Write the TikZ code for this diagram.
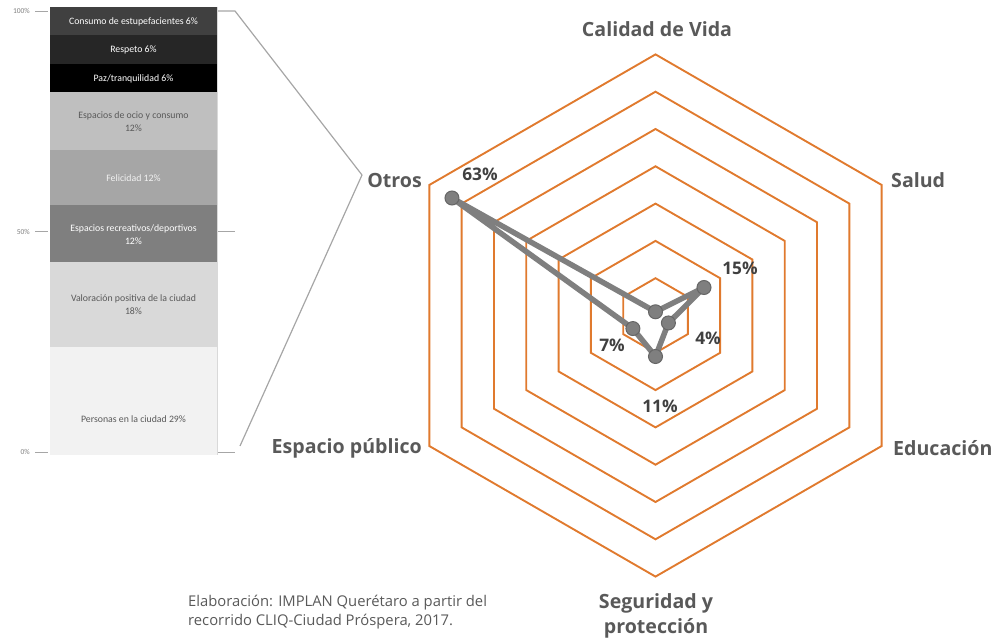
\documentclass[tikz,border=0pt]{standalone}
\usepackage{fontspec}
\setmainfont{Carlito}
\newfontfamily\labfont{Open Sans}
\usetikzlibrary{calc}
\definecolor{ringorange}{HTML}{E07A2E}
\definecolor{labgray}{HTML}{595959}
\definecolor{valgray}{HTML}{404040}
\definecolor{sergray}{HTML}{7F7F7F}
\definecolor{bracketgray}{HTML}{A6A6A6}
\begin{document}
\begin{tikzpicture}[x=1pt,y=-1pt,
  ring/.style={draw=ringorange,line width=1.9pt,line join=miter},
  series/.style={draw=sergray,line width=5.5pt,line join=round},
  marker/.style={circle,fill=sergray,draw=gray!80!black,line width=1pt,minimum size=14pt,inner sep=0pt},
  axlab/.style={font=\labfont\bfseries\fontsize{19.6}{23}\selectfont,text=labgray,inner sep=0pt},
  vallab/.style={font=\labfont\bfseries\fontsize{17.3}{20}\selectfont,text=valgray,inner sep=0pt},
  segtext/.style={font=\fontsize{9.8}{13}\selectfont,align=center,inner sep=0pt},
  ticklab/.style={font=\fontsize{7.5}{9}\selectfont,text=sergray,inner sep=0pt,anchor=east},
  tickline/.style={draw=bracketgray,line width=0.8pt},
  bracket/.style={draw=bracketgray,line width=1.2pt}]
\useasboundingbox (0,0) rectangle (991,644);
\coordinate (c) at (655.5,315.5);
% rings
\foreach \k in {1,...,7}{
  \pgfmathsetmacro{\r}{\k*37.3}
  \draw[ring,shift={(c)}] (-90:\r) -- (-30:\r) -- (30:\r) -- (90:\r) -- (150:\r) -- (210:\r) -- cycle;
}
% data points
\coordinate (p1) at ($(c)+(-90:3.73)$);
\coordinate (p2) at ($(c)+(-30:56)$);
\coordinate (p3) at ($(c)+(30:14.9)$);
\coordinate (p4) at ($(c)+(90:41)$);
\coordinate (p5) at ($(c)+(150:26.1)$);
\coordinate (p6) at ($(c)+(210:235)$);
\draw[series] (p1) -- (p2) -- (p3) -- (p4) -- (p5) -- (p6) -- cycle;
\foreach \i in {1,...,6}{ \node[marker] (m\i) at (p\i) {}; }
% value labels
\node[vallab] (v6) at (480,174) {63\%};
\node[vallab] (v2) at (740,268) {15\%};
\node[vallab] (v3) at (708,338) {4\%};
\node[vallab] (v4) at (660,406) {11\%};
\node[vallab] (v5) at (612,345) {7\%};
% axis labels
\node[axlab] (a1) at (657,29) {Calidad de Vida};
\node[axlab,anchor=west] (a2) at (891,180) {Salud};
\node[axlab,anchor=west] (a3) at (893,448) {Educación};
\node[axlab,align=center] (a4) at (656,616) {Seguridad y\\[2pt]protección};
\node[axlab,anchor=east] (a5) at (422,448) {Espacio público};
\node[axlab,anchor=east] (a6) at (422,180) {Otros};
% stacked bar
\fill[fill={rgb,255:red,64;green,64;blue,64}] (50,7) rectangle (217,35);
\fill[fill={rgb,255:red,38;green,38;blue,38}] (50,35) rectangle (217,64);
\fill[black] (50,64) rectangle (217,92);
\fill[fill={rgb,255:red,191;green,191;blue,191}] (50,92) rectangle (217,150);
\fill[fill={rgb,255:red,166;green,166;blue,166}] (50,150) rectangle (217,205);
\fill[fill={rgb,255:red,127;green,127;blue,127}] (50,205) rectangle (217,262);
\fill[fill={rgb,255:red,217;green,217;blue,217}] (50,262) rectangle (217,347);
\fill[fill={rgb,255:red,242;green,242;blue,242}] (50,347) rectangle (217,455);
\node[segtext,text=white] (s1) at (133.5,21.5) {Consumo de estupefacientes 6\%};
\node[segtext,text=white] (s2) at (133.5,50) {Respeto 6\%};
\node[segtext,text=white] (s3) at (133.5,78.5) {Paz/tranquilidad 6\%};
\node[segtext,text=labgray] (s4) at (133.5,121.5) {Espacios de ocio y consumo\\12\%};
\node[segtext,text={rgb,255:red,242;green,242;blue,242}] (s5) at (133.5,178) {Felicidad 12\%};
\node[segtext,text=white] (s6) at (133.5,235) {Espacios recreativos/deportivos\\12\%};
\node[segtext,text=labgray] (s7) at (133.5,305) {Valoración positiva de la ciudad\\18\%};
\node[segtext,text=labgray] (s8) at (133.5,419) {Personas en la ciudad 29\%};
\draw[draw={rgb,255:red,217;green,217;blue,217},line width=0.8pt] (217.5,7) -- (217.5,455);
% ticks
\node[ticklab] (t100) at (30,11) {100\%};
\node[ticklab] (t50) at (30,231.5) {50\%};
\node[ticklab] (t0) at (30,452) {0\%};
\draw[tickline] (35,11) -- (48,11);
\draw[tickline] (35,231.5) -- (48,231.5);
\draw[tickline] (35,452) -- (48,452);
\draw[tickline] (218,231.5) -- (235,231.5);
\draw[tickline] (218,452) -- (235,452);
% bracket
\coordinate (b1) at (218,11);
\coordinate (b2) at (235,11);
\coordinate (b3) at (362,175);
\coordinate (b4) at (240,446);
\draw[bracket,line join=round] (b1) -- (b2) -- (b3) -- (b4);
% footnote
\node[anchor=west,align=left,text=labgray,font=\labfont\fontsize{14.8}{19}\selectfont,inner sep=0pt] (fn) at (188,612) {Elaboración: IMPLAN Querétaro a partir del\\recorrido CLIQ-Ciudad Próspera, 2017.};
\end{tikzpicture}
\end{document}
